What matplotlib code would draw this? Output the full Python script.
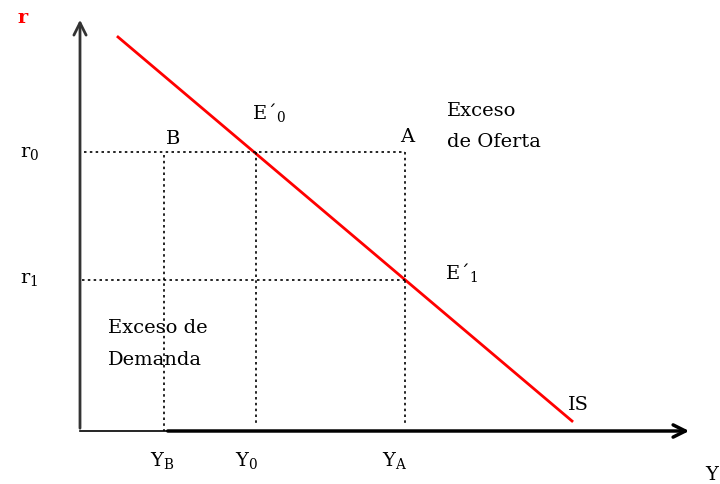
import matplotlib.pyplot as plt

# IS curve and equilibrium levels (arbitrary units)
is_Y = [38, 492]
is_r = [394, 10]
Y_levels = {"Y_B": 84, "Y_0": 176, "Y_A": 325}
r_levels = {"r_0": 279, "r_1": 151}

plt.rcParams['font.family'] = ['DejaVu Serif']
plt.rcParams['mathtext.fontset'] = 'dejavuserif'

fig = plt.figure(figsize=(7.2, 4.85), dpi=100)
ax = fig.add_axes([0, 0, 1, 1])
ax.set_xlim(-80, 640)
ax.set_ylim(-53, 432)
ax.axis('off')

# axes with arrows
ax.annotate('', xy=(0, 414), xytext=(0, 0),
            arrowprops=dict(arrowstyle='->', color='#333333', lw=2, mutation_scale=22))
ax.annotate('', xy=(612, 0), xytext=(85, 0),
            arrowprops=dict(arrowstyle='->', color='black', lw=2.5, mutation_scale=22))
ax.plot([0, 88], [0, 0], color='black', lw=1.2)

# IS line
ax.plot(is_Y, is_r, color='red', lw=2)

Yb, Y0, Ya = Y_levels["Y_B"], Y_levels["Y_0"], Y_levels["Y_A"]
r0, r1 = r_levels["r_0"], r_levels["r_1"]
dot = dict(color='black', lw=1.2, linestyle=(0, (1.5, 2)))
ax.plot([4, Ya], [r0, r0], **dot)
ax.plot([2, Ya], [r1, r1], **dot)
ax.plot([Yb, Yb], [r0 - 3, 0], **dot)
ax.plot([Y0, Y0], [r0, 7], **dot)
ax.plot([Ya, Ya], [r0, 7], **dot)

fs = 14
ax.text(-62, 414, 'r', color='red', fontsize=fs, fontweight='bold', ha='left', va='center')
ax.text(-60, r0, r'r$_0$', fontsize=fs, ha='left', va='center')
ax.text(-60, r1 + 2, r'r$_1$', fontsize=fs, ha='left', va='center')
ax.text(Yb + 2, r0 + 14, 'B', fontsize=fs, ha='left', va='center')
ax.text(Ya + 2, r0 + 16, 'A', fontsize=fs, ha='center', va='center')
ax.text(Y0 - 4, r0 + 40, "E´$_0$", fontsize=fs, ha='left', va='center')
ax.text(Ya + 40, r1 + 8, "E´$_1$", fontsize=fs, ha='left', va='center')
ax.text(367, 321, 'Exceso', fontsize=fs, ha='left', va='center')
ax.text(367, 290, 'de Oferta', fontsize=fs, ha='left', va='center')
ax.text(28, 104, 'Exceso de', fontsize=fs, ha='left', va='center')
ax.text(28, 72, 'Demanda', fontsize=fs, ha='left', va='center')
ax.text(488, 27, 'IS', fontsize=fs, ha='left', va='center')
ax.text(Yb - 2, -29, r'Y$_\mathrm{B}$', fontsize=fs, ha='center', va='center')
ax.text(Y0 - 9, -29, r'Y$_0$', fontsize=fs, ha='center', va='center')
ax.text(Ya - 10, -29, r'Y$_\mathrm{A}$', fontsize=fs, ha='center', va='center')
ax.text(625, -43, 'Y', fontsize=fs, ha='left', va='center')

fig.savefig('out.png', dpi=100)
